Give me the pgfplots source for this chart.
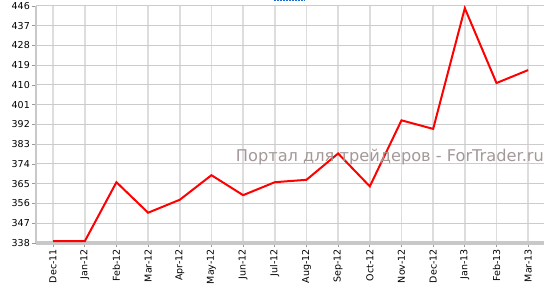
\documentclass[border=0pt]{standalone}
\usepackage{fontspec}
\setmainfont{DejaVu Sans}
\usepackage{pgfplots}
\pgfplotsset{compat=1.18}
\definecolor{gridx}{HTML}{DDDDDD}
\definecolor{gridy}{HTML}{CCCCCC}
\definecolor{axisgray}{HTML}{C8C8C8}
\definecolor{wm}{HTML}{A49898}
\definecolor{dotblue}{HTML}{1A6FD0}
\begin{document}
\begin{tikzpicture}
\begin{axis}[
  scale only axis,
  width=508bp, height=237bp,
  xmin=-0.54, xmax=15.5,
  ymin=338, ymax=446,
  ytick={338,347,356,365,374,383,392,401,410,419,428,437,446},
  xtick={0,...,15},
  xticklabels={Dec-11,Jan-12,Feb-12,Mar-12,Apr-12,May-12,Jun-12,Jul-12,Aug-12,Sep-12,Oct-12,Nov-12,Dec-12,Jan-13,Feb-13,Mar-13},
  x tick label style={rotate=90, anchor=east, font=\fontsize{9.5bp}{10bp}\selectfont, inner sep=2bp},
  y tick label style={font=\fontsize{9.5bp}{10bp}\selectfont, inner sep=2bp},
  /pgf/number format/assume math mode=true,
  axis x line*=bottom, axis y line*=left,
  x axis line style={draw=axisgray, line width=3bp, -},
  y axis line style={draw=axisgray, line width=2bp, -},
  xmajorgrids, ymajorgrids,
  x grid style={draw=gridx, line width=1.5bp},
  y grid style={draw=gridy, line width=1bp},
  tick align=outside,
  major tick length=4bp,
  tick style={draw=gray!80, line width=0.8bp},
  clip=false,
]
\addplot[red, line width=2bp, no marks] coordinates {
(0,338.8) (1,338.8) (2,365.7) (3,351.8) (4,357.7) (5,368.9) (6,359.8) (7,365.7) (8,366.8) (9,378.8) (10,363.8) (11,393.9) (12,390.0) (13,445.0) (14,410.9) (15,416.8)
};
\node[anchor=base east, text=wm, font=\fontsize{16.2bp}{18bp}\selectfont, inner sep=0pt] at (rel axis cs:1.0,0.345) {Портал для трейдеров - ForTrader.ru};
\end{axis}
\draw[dotblue, line width=1.5bp, dash pattern=on 1.5bp off 1.5bp] (current axis.north west) ++(238bp,5.3bp) -- ++(31bp,0);
\pgfresetboundingbox
\path (current axis.south west) ++(-36bp,-44bp) (current axis.north east) ++(8bp,6bp);
\end{tikzpicture}
\end{document}
